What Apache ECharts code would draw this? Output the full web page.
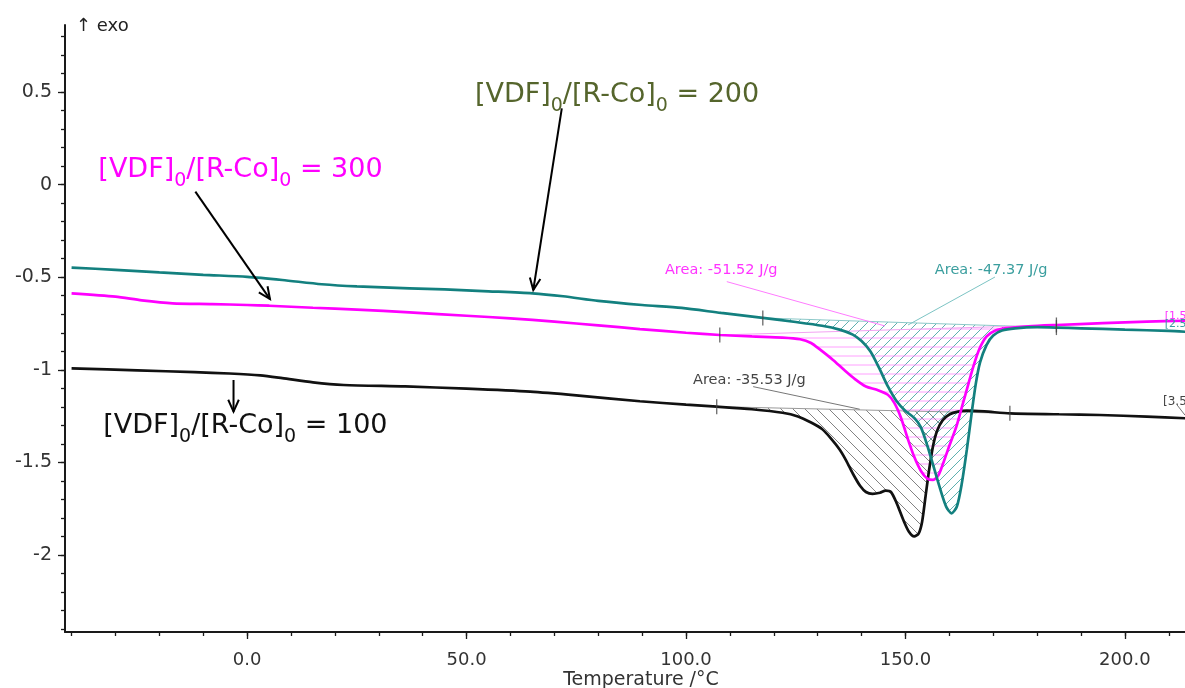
<!DOCTYPE html>
<html><head><meta charset="utf-8">
<script src="https://cdn.jsdelivr.net/npm/echarts@6/dist/echarts.min.js"></script>
<style>html,body{margin:0;padding:0;background:#fff}#c{width:1185px;height:688px}</style>
</head><body><div id="c"></div>
<script>
// ---------- data ----------
const tempMajorTicks = [0, 50, 100, 150, 200];
const tempMinorTicks = [-40, -30, -20, -10, 0, 10, 20, 30, 40, 50, 60, 70, 80, 90, 100, 110, 120, 130, 140, 150, 160, 170, 180, 190, 200, 210];
const heatMajorTicks = [-2, -1.5, -1, -0.5, 0, 0.5];
const heatMinorTicks = [-2.4, -2.3, -2.2, -2.1, -2, -1.9, -1.8, -1.7, -1.6, -1.5, -1.4, -1.3, -1.2, -1.1, -1, -0.9, -0.8, -0.7, -0.6, -0.5, -0.4, -0.3, -0.2, -0.1, 0, 0.1, 0.2, 0.3, 0.4, 0.5, 0.6, 0.7, 0.8];

// [VDF]0/[R-Co]0 = 100 (black)
const curve100 = [[-40,-0.992],[-25,-1.003],[-12,-1.013],[-4,-1.02],[3,-1.03],[8,-1.045],[15,-1.068],[22,-1.082],[36,-1.09],[50,-1.102],[64.5,-1.118],[75,-1.138],[89.5,-1.17],[100,-1.188],[107,-1.199],[115,-1.213],[122,-1.232],[125.5,-1.252],[128.5,-1.285],[131,-1.32],[133,-1.37],[135,-1.43],[136.5,-1.49],[138,-1.56],[139.7,-1.628],[141,-1.66],[142.5,-1.67],[144.2,-1.664],[145.5,-1.652],[146.7,-1.66],[148,-1.72],[149.5,-1.81],[150.8,-1.875],[152,-1.9],[153,-1.885],[153.8,-1.82],[154.6,-1.68],[155.4,-1.54],[156.3,-1.41],[157.2,-1.33],[158.5,-1.272],[160.1,-1.24],[162,-1.226],[164,-1.221],[168,-1.225],[173.8,-1.235],[185,-1.24],[194.3,-1.244],[205,-1.253],[214,-1.262]];
// [VDF]0/[R-Co]0 = 200 (teal)
const curve200 = [[-40,-0.448],[-30,-0.46],[-20,-0.474],[-10,-0.487],[0,-0.498],[8,-0.515],[17,-0.538],[25,-0.55],[37,-0.56],[45,-0.566],[55,-0.576],[65,-0.587],[72,-0.603],[80,-0.628],[90,-0.65],[99,-0.666],[108,-0.693],[117.5,-0.72],[125,-0.742],[131,-0.762],[135,-0.783],[138,-0.81],[140,-0.845],[142,-0.9],[144,-0.99],[146,-1.09],[148,-1.17],[150,-1.222],[152,-1.26],[153.5,-1.31],[155,-1.41],[156.5,-1.53],[158,-1.65],[159.3,-1.74],[160.5,-1.775],[161.7,-1.74],[162.8,-1.62],[164,-1.43],[165,-1.25],[166,-1.08],[167,-0.96],[168.5,-0.865],[170,-0.815],[172,-0.788],[175,-0.776],[180,-0.77],[184.4,-0.772],[190,-0.776],[200,-0.783],[210,-0.79],[214,-0.795]];
// [VDF]0/[R-Co]0 = 300 (magenta)
const curve300 = [[-40,-0.587],[-30,-0.605],[-24,-0.625],[-17,-0.641],[-8,-0.645],[0,-0.65],[5,-0.654],[15,-0.665],[25,-0.675],[37,-0.69],[50,-0.708],[60,-0.722],[70,-0.74],[80,-0.76],[89.5,-0.78],[100,-0.8],[107.7,-0.812],[115,-0.82],[122,-0.826],[126,-0.835],[128.5,-0.855],[130.5,-0.89],[133.5,-0.947],[136,-1.0],[138.5,-1.05],[141,-1.09],[143.5,-1.108],[146,-1.135],[147.5,-1.18],[149,-1.26],[150.5,-1.37],[152,-1.47],[153.5,-1.545],[155,-1.588],[156.3,-1.595],[157.5,-1.57],[158.6,-1.505],[160,-1.41],[161.6,-1.307],[163,-1.19],[164.3,-1.08],[165.5,-0.98],[166.8,-0.89],[168.5,-0.82],[170.5,-0.788],[173,-0.775],[178,-0.765],[184.4,-0.758],[195,-0.748],[205,-0.74],[214,-0.735]];

// integration limits (temperatures) and peak areas
const limits100 = [107, 173.8];
const limits200 = [117.5, 184.4];
const limits300 = [107.7, 184.4];
const areaText100 = 'Area: -35.53 J/g';
const areaText200 = 'Area: -47.37 J/g';
const areaText300 = 'Area: -51.52 J/g';
const ratioNames = ['100', '200', '300'];

// ---------- styling ----------
const F = 'DejaVu Sans';
const C100 = '#111111', C200 = '#13807f', C300 = '#ff00ff', COLIVE = '#55652c';

function hatch(kind, color, gap) {
  const c = document.createElement('canvas'); c.width = gap; c.height = gap;
  const g = c.getContext('2d'); g.strokeStyle = color; g.lineWidth = 1;
  g.beginPath();
  if (kind === 'h') { g.moveTo(0, gap / 2 + 0.5); g.lineTo(gap, gap / 2 + 0.5); }
  else if (kind === '/') {
    g.moveTo(-1, gap + 1); g.lineTo(gap + 1, -1);
    g.moveTo(-1, 1); g.lineTo(1, -1);
    g.moveTo(gap - 1, gap + 1); g.lineTo(gap + 1, gap - 1);
  } else {
    g.moveTo(-1, -1); g.lineTo(gap + 1, gap + 1);
    g.moveTo(gap - 1, -1); g.lineTo(gap + 1, 1);
    g.moveTo(-1, gap - 1); g.lineTo(1, gap + 1);
  }
  g.stroke(); return c;
}
const pat100 = hatch('\\', 'rgba(90,90,90,0.75)', 12);
const pat200 = hatch('/', 'rgba(40,150,150,0.75)', 10);
const pat300 = hatch('h', 'rgba(255,120,255,0.7)', 9);

function areaSeries(curve, lim, pattern, baseColor, z) {
  const pts = curve.filter(p => p[0] >= lim[0] && p[0] <= lim[1]);
  return {
    type: 'custom', coordinateSystem: 'cartesian2d', silent: true, z: z,
    data: [pts[0]],
    renderItem: function (params, api) {
      const px = pts.map(p => api.coord(p));
      const a = px[0], b = px[px.length - 1];
      return { type: 'group', children: [
        { type: 'polygon', shape: { points: px }, style: { fill: { image: pattern, repeat: 'repeat' }, stroke: null } },
        { type: 'line', shape: { x1: a[0], y1: a[1], x2: b[0], y2: b[1] }, style: { stroke: baseColor, lineWidth: 1 } }
      ]};
    }
  };
}
function lineSeries(name, curve, color) {
  return { name: name, type: 'line', data: curve, showSymbol: false, smooth: 0.25, z: 5,
    lineStyle: { color: color, width: 2.7 }, itemStyle: { color: color } };
}
function tickPoints(curve, lim) { return curve.filter(p => p[0] === lim[0] || p[0] === lim[1]); }

const chart = echarts.init(document.getElementById('c'));
const axisCol = '#1a1a1a';
chart.setOption({
  animation: false,
  backgroundColor: '#fff',
  grid: { left: 65, right: 0, top: 25, bottom: 56, containLabel: false, outerBoundsMode: 'none' },
  xAxis: [
    { type: 'value', min: -41.5, max: 213.7, position: 'bottom',
      axisLine: { onZero: false, lineStyle: { color: axisCol, width: 2 } },
      axisTick: { customValues: tempMajorTicks, length: 7, lineStyle: { color: axisCol, width: 1.3 } },
      axisLabel: { customValues: tempMajorTicks, formatter: v => v.toFixed(1), color: '#333', fontFamily: F, fontSize: 18, margin: 19 },
      splitLine: { show: false } },
    { type: 'value', min: -41.5, max: 213.7, position: 'bottom',
      axisLine: { show: false, onZero: false },
      axisTick: { customValues: tempMinorTicks, length: 4, lineStyle: { color: axisCol, width: 1.3 } },
      axisLabel: { show: false }, splitLine: { show: false } }
  ],
  yAxis: [
    { type: 'value', min: -2.416, max: 0.862, position: 'left',
      axisLine: { show: true, onZero: false, lineStyle: { color: axisCol, width: 2 } },
      axisTick: { show: true, customValues: heatMajorTicks, length: 7, lineStyle: { color: axisCol, width: 1.3 } },
      axisLabel: { customValues: heatMajorTicks, formatter: v => String(v), color: '#333', fontFamily: F, fontSize: 19, margin: 13 },
      splitLine: { show: false } },
    { type: 'value', min: -2.416, max: 0.862, position: 'left',
      axisLine: { show: false, onZero: false },
      axisTick: { show: true, customValues: heatMinorTicks, length: 4, lineStyle: { color: axisCol, width: 1.3 } },
      axisLabel: { show: false }, splitLine: { show: false } }
  ],
  series: [
    areaSeries(curve100, limits100, pat100, '#9a9a9a', 2),
    areaSeries(curve200, limits200, pat200, '#8cc9c9', 2),
    areaSeries(curve300, limits300, pat300, '#f3a3f3', 3),
    lineSeries('100', curve100, C100),
    lineSeries('300', curve300, C300),
    lineSeries('200', curve200, C200),
    { type: 'scatter', silent: true, z: 6, symbol: 'rect', symbolSize: [1.3, 15], itemStyle: { color: '#444' },
      data: [].concat(tickPoints(curve100, limits100), tickPoints(curve200, limits200), tickPoints(curve300, limits300)) }
  ]
});

// ---------- annotations (anchored in data coordinates) ----------
const P = p => chart.convertToPixel({ gridIndex: 0 }, p);
function ratioRich(n, color) {
  return {
    type: 'text', z: 20,
    style: {
      text: '{a|[VDF]}{s|0}{a|/[R-Co]}{s|0}{a| = ' + n + '}',
      verticalAlign: 'middle', align: 'left',
      rich: {
        a: { fontFamily: F, fontSize: 27, fill: color, lineHeight: 42 },
        s: { fontFamily: F, fontSize: 19, fill: color, lineHeight: 19, verticalAlign: 'bottom' }
      }
    }
  };
}
function place(el, p) { const q = P(p); el.x = q[0]; el.y = q[1]; return el; }
function arrow(from, to) {
  const a = P(from), b = P(to);
  const ang = Math.atan2(b[1] - a[1], b[0] - a[0]), L = 13, w = 0.42;
  const h1 = [b[0] - L * Math.cos(ang - w), b[1] - L * Math.sin(ang - w)];
  const h2 = [b[0] - L * Math.cos(ang + w), b[1] - L * Math.sin(ang + w)];
  return [
    { type: 'line', z: 20, shape: { x1: a[0], y1: a[1], x2: b[0], y2: b[1] }, style: { stroke: '#000', lineWidth: 2 } },
    { type: 'polyline', z: 20, shape: { points: [h1, b, h2] }, style: { stroke: '#000', lineWidth: 2, fill: null } }
  ];
}
function leader(from, to, color) {
  const a = P(from), b = P(to);
  return { type: 'line', z: 4, shape: { x1: a[0], y1: a[1], x2: b[0], y2: b[1] }, style: { stroke: color, lineWidth: 1 } };
}
function label(text, p, color, size) {
  return place({ type: 'text', z: 20, style: { text: text, fill: color, fontFamily: F, fontSize: size, verticalAlign: 'middle', align: 'left' } }, p);
}

const graphics = [
  { type: 'text', x: 76, y: 26, z: 20, style: { text: '↑ exo', fill: '#222', fontFamily: F, fontSize: 18, verticalAlign: 'middle' } },
  { type: 'text', x: 641, y: 680, z: 20, style: { text: 'Temperature /°C', fill: '#333', fontFamily: F, fontSize: 19, align: 'center', verticalAlign: 'middle' } },
  place(ratioRich(ratioNames[2], C300), [-33.9, 0.079]),
  place(ratioRich(ratioNames[1], COLIVE), [51.9, 0.484]),
  place(ratioRich(ratioNames[0], C100), [-32.8, -1.303]),
  ...arrow([-11.8, -0.038], [5.2, -0.618]),
  ...arrow([71.7, 0.412], [65.2, -0.569]),
  ...arrow([-3.1, -1.055], [-3.1, -1.226]),
  leader([109.3, -0.524], [145.3, -0.763], '#ff7bff'),
  leader([170.4, -0.499], [150.6, -0.758], '#7cc4c4'),
  leader([115.3, -1.091], [139.6, -1.213], '#777'),
  leader([211.9, -1.19], [213.7, -1.245], '#777'),
  label(areaText300, [95.2, -0.461], '#ff33ff', 14.5),
  label(areaText200, [156.7, -0.461], '#3a9e9e', 14.5),
  label(areaText100, [101.6, -1.055], '#444', 14.5),
  label('[1.5', [209.1, -0.712], '#ff33ff', 11),
  label('[2.5', [209.1, -0.752], '#3a9e9e', 11),
  label('[3.5', [208.7, -1.174], '#444', 12)
];
chart.setOption({ graphic: graphics });
</script></body></html>
